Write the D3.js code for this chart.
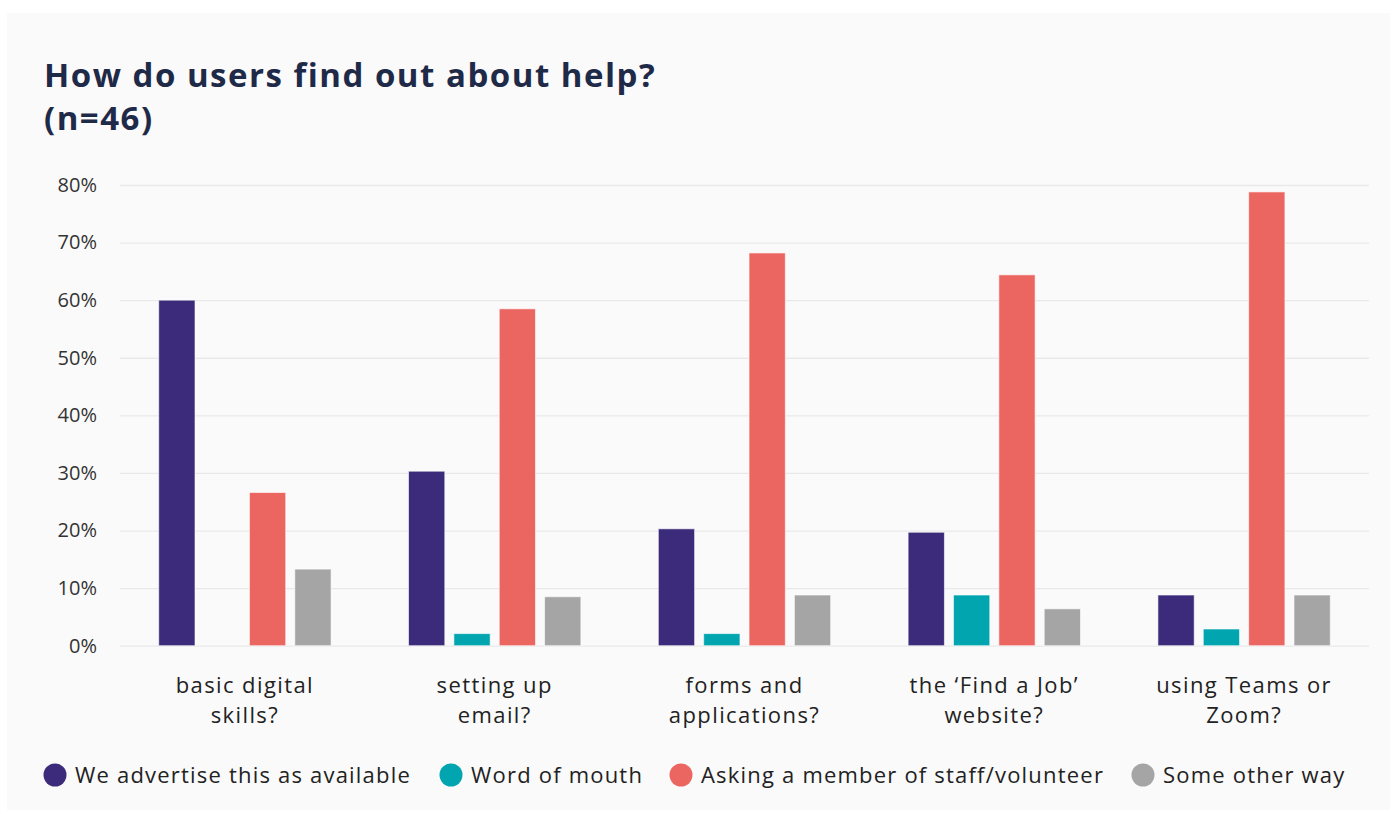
<!DOCTYPE html>
<html>
<head>
<meta charset="utf-8">
<script src="https://cdn.jsdelivr.net/npm/d3@7/dist/d3.min.js"></script>
<style>
  html, body { margin: 0; padding: 0; background: #ffffff; }
  svg { display: block; }
</style>
</head>
<body>
<svg id="chart" width="1392" height="814"></svg>
<script>
// Survey question topics (x-axis groups), each split over two lines
const categories = [
  ["basic digital", "skills?"],
  ["setting up", "email?"],
  ["forms and", "applications?"],
  ["the \u2018Find a Job\u2019", "website?"],
  ["using Teams or", "Zoom?"]
];

// Ways users find out about help (series)
const seriesNames = [
  "We advertise this as available",
  "Word of mouth",
  "Asking a member of staff/volunteer",
  "Some other way"
];
const seriesColors = ["#3c2a7a", "#00a5b0", "#ec6661", "#a5a5a5"];

// Percentage of respondents per topic, one array per series
const advertised  = [60.0, 30.3, 20.3, 19.7, 8.8];
const wordOfMouth = [0.0, 2.1, 2.1, 8.8, 2.9];
const askingStaff = [26.6, 58.5, 68.2, 64.4, 78.8];
const otherWay    = [13.3, 8.5, 8.8, 6.4, 8.8];

const yTicks = [0, 10, 20, 30, 40, 50, 60, 70, 80];

const titleLines = ["How do users find out about help?", "(n=46)"];

const seriesValues = [advertised, wordOfMouth, askingStaff, otherWay];

const svg = d3.select("#chart");
const FONT = "'Open Sans', sans-serif";

// card background
svg.append("rect")
  .attr("x", 7).attr("y", 13)
  .attr("width", 1383).attr("height", 797)
  .attr("fill", "#fafafa");

// title
const title = svg.append("text")
  .attr("x", 44).attr("y", 87)
  .attr("font-family", FONT)
  .attr("font-weight", 700)
  .attr("font-size", 33)
  .attr("letter-spacing", 1.5)
  .attr("fill", "#1f2a48");
titleLines.forEach((t, i) => {
  title.append("tspan").attr("x", 44).attr("dy", i === 0 ? 0 : 43).text(t);
});

const plot = { left: 120, right: 1369, top: 185, bottom: 645.7 };

const y = d3.scaleLinear().domain([0, 80]).range([plot.bottom, plot.top]);

const x0 = d3.scaleBand()
  .domain(d3.range(categories.length))
  .range([plot.left, plot.right])
  .paddingInner(0.31)
  .paddingOuter(0.155);

const x1 = d3.scaleBand()
  .domain(d3.range(seriesNames.length))
  .range([0, x0.bandwidth()])
  .paddingInner(0.2)
  .paddingOuter(0);

// gridlines + y labels
const yAxis = d3.axisLeft(y)
  .tickValues(yTicks)
  .tickSize(-(plot.right - plot.left))
  .tickPadding(23)
  .tickFormat(d => d + "%");

const gy = svg.append("g")
  .attr("transform", `translate(${plot.left},0)`)
  .call(yAxis);
gy.select(".domain").remove();
gy.selectAll(".tick line").attr("stroke", "#e9e9e9").attr("stroke-width", 1.3);
gy.selectAll(".tick text")
  .attr("font-family", FONT)
  .attr("font-size", 20)
  .attr("fill", "#333333");

// bars
const groups = svg.append("g").selectAll("g")
  .data(categories.map((c, i) => i))
  .join("g")
  .attr("transform", i => `translate(${x0(i)},0)`);

groups.selectAll("rect")
  .data(i => seriesValues.map((vals, s) => ({ s, v: vals[i] })))
  .join("rect")
  .filter(d => d.v > 0)
  .attr("x", d => x1(d.s))
  .attr("width", x1.bandwidth())
  .attr("y", d => y(d.v))
  .attr("height", d => y(0) - y(d.v))
  .attr("fill", d => seriesColors[d.s])
  .attr("stroke", "#ffffff")
  .attr("stroke-opacity", 0.6)
  .attr("stroke-width", 1);

// x category labels
const xAxis = d3.axisBottom(x0).tickSize(0).tickFormat("");
const gx = svg.append("g")
  .attr("transform", `translate(0,${plot.bottom})`)
  .call(xAxis);
gx.select(".domain").remove();
gx.selectAll(".tick").each(function (i) {
  const t = d3.select(this).append("text")
    .attr("text-anchor", "middle")
    .attr("font-family", FONT)
    .attr("font-size", 22)
    .attr("letter-spacing", 1.4)
    .attr("fill", "#222222");
  categories[i].forEach((line, k) => {
    t.append("tspan").attr("x", 0).attr("y", 47 + k * 30).text(line);
  });
});

// legend
const legendX = [55, 451, 681, 1143];
const legend = svg.append("g").selectAll("g")
  .data(seriesNames)
  .join("g")
  .attr("transform", (d, i) => `translate(${legendX[i]},775)`);
legend.append("circle")
  .attr("r", 11.5)
  .attr("fill", (d, i) => seriesColors[i]);
legend.append("text")
  .attr("x", 20)
  .attr("dy", "0.35em")
  .attr("font-family", FONT)
  .attr("font-size", 22)
  .attr("letter-spacing", 1.2)
  .attr("fill", "#222222")
  .text(d => d);
</script>
</body>
</html>
